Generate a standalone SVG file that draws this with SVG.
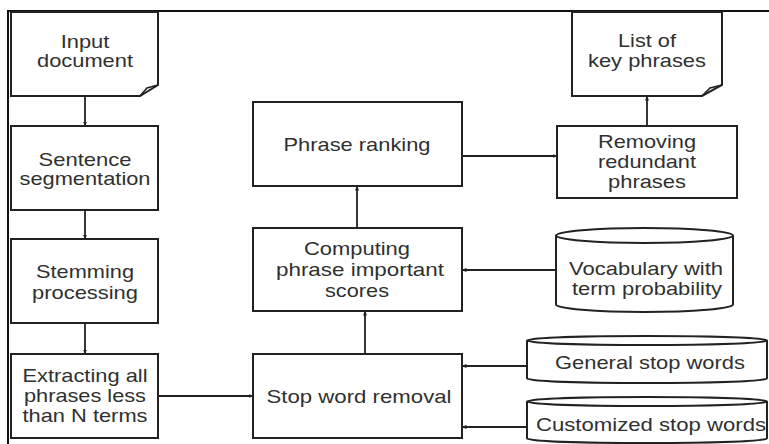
<svg xmlns="http://www.w3.org/2000/svg" width="769" height="444" viewBox="0 0 769 444">
<defs>
<style>
.box{fill:#fff;stroke:#222;stroke-width:2}
.flap{fill:none;stroke:#222;stroke-width:1.6}
.lbl{font-family:"Liberation Sans",Arial,sans-serif;font-size:19px;fill:#303030;text-anchor:middle}
.conn{fill:none;stroke:#222;stroke-width:1.8;marker-end:url(#ah)}
.frame{fill:none;stroke:#111;stroke-width:2}
</style>
<marker id="ah" viewBox="0 0 10 10" refX="9" refY="5" markerWidth="5" markerHeight="5" orient="auto" markerUnits="userSpaceOnUse">
<path d="M0,1 L10,5 L0,9 Z" fill="#222"/>
</marker>
</defs>
<rect x="0" y="0" width="769" height="444" fill="#fff"/>
<path class="frame" d="M8,444 V11 H769"/>

<g id="connectors">
<line class="conn" x1="85" y1="96" x2="85" y2="126"/>
<line class="conn" x1="85" y1="210" x2="85" y2="239"/>
<line class="conn" x1="85" y1="323" x2="85" y2="354"/>
<line class="conn" x1="158" y1="396" x2="253" y2="396"/>
<line class="conn" x1="365" y1="354" x2="365" y2="311"/>
<line class="conn" x1="357" y1="228" x2="357" y2="186"/>
<line class="conn" x1="462" y1="156" x2="557" y2="156"/>
<line class="conn" x1="647" y1="126" x2="647" y2="96"/>
<line class="conn" x1="556" y1="270" x2="462" y2="270"/>
<line class="conn" x1="527" y1="366" x2="462" y2="366"/>
<line class="conn" x1="527" y1="427" x2="462" y2="427"/>
</g>

<g id="input-document">
<path class="box" d="M11,12 H158 V85 L140,96 H11 Z"/>
<path class="flap" d="M158,85 L147,88 L140,96"/>
<text class="lbl" x="85" y="48" textLength="48.6" lengthAdjust="spacingAndGlyphs">Input</text>
<text class="lbl" x="85" y="67" textLength="96" lengthAdjust="spacingAndGlyphs">document</text>
</g>

<g id="sentence-segmentation">
<rect class="box" x="11" y="126" width="147" height="84"/>
<text class="lbl" x="85" y="166" textLength="93" lengthAdjust="spacingAndGlyphs">Sentence</text>
<text class="lbl" x="85" y="185" textLength="131" lengthAdjust="spacingAndGlyphs">segmentation</text>
</g>

<g id="stemming-processing">
<rect class="box" x="11" y="239" width="147" height="84"/>
<text class="lbl" x="85" y="278" textLength="98" lengthAdjust="spacingAndGlyphs">Stemming</text>
<text class="lbl" x="85" y="299" textLength="106" lengthAdjust="spacingAndGlyphs">processing</text>
</g>

<g id="extracting-phrases">
<rect class="box" x="11" y="354" width="147" height="84"/>
<text class="lbl" x="85" y="382" textLength="125" lengthAdjust="spacingAndGlyphs">Extracting all</text>
<text class="lbl" x="85" y="402" textLength="122" lengthAdjust="spacingAndGlyphs">phrases less</text>
<text class="lbl" x="85" y="422" textLength="125" lengthAdjust="spacingAndGlyphs">than N terms</text>
</g>

<g id="phrase-ranking">
<rect class="box" x="253" y="102" width="209" height="84"/>
<text class="lbl" x="357" y="151" textLength="147" lengthAdjust="spacingAndGlyphs">Phrase ranking</text>
</g>

<g id="computing-scores">
<rect class="box" x="253" y="228" width="209" height="83"/>
<text class="lbl" x="357" y="255" textLength="106" lengthAdjust="spacingAndGlyphs">Computing</text>
<text class="lbl" x="360" y="276" textLength="168" lengthAdjust="spacingAndGlyphs">phrase important</text>
<text class="lbl" x="357" y="297" textLength="64" lengthAdjust="spacingAndGlyphs">scores</text>
</g>

<g id="stop-word-removal">
<rect class="box" x="253" y="354" width="209" height="84"/>
<text class="lbl" x="359" y="403" textLength="185" lengthAdjust="spacingAndGlyphs">Stop word removal</text>
</g>

<g id="list-key-phrases">
<path class="box" d="M572,12 H722 V85 L702,96 H572 Z"/>
<path class="flap" d="M722,85 L710,88 L702,96"/>
<text class="lbl" x="647" y="47" textLength="58" lengthAdjust="spacingAndGlyphs">List of</text>
<text class="lbl" x="647" y="67" textLength="118" lengthAdjust="spacingAndGlyphs">key phrases</text>
</g>

<g id="removing-redundant">
<rect class="box" x="557" y="126" width="180" height="72"/>
<text class="lbl" x="647" y="148" textLength="98" lengthAdjust="spacingAndGlyphs">Removing</text>
<text class="lbl" x="647" y="168" textLength="98" lengthAdjust="spacingAndGlyphs">redundant</text>
<text class="lbl" x="647" y="188" textLength="78" lengthAdjust="spacingAndGlyphs">phrases</text>
</g>

<g id="vocabulary">
<path class="box" d="M556,235.5 V304.5 A88.5,7.5 0 0 0 733,304.5 V235.5"/>
<ellipse class="box" cx="644.5" cy="235.5" rx="88.5" ry="7.5"/>
<text class="lbl" x="646" y="275" textLength="154" lengthAdjust="spacingAndGlyphs">Vocabulary with</text>
<text class="lbl" x="647" y="295" textLength="150" lengthAdjust="spacingAndGlyphs">term probability</text>
</g>

<g id="general-stop-words">
<path class="box" d="M527,340.5 V378.5 A120,4.5 0 0 0 767,378.5 V340.5"/>
<ellipse class="box" cx="647" cy="340.5" rx="120" ry="4.5"/>
<text class="lbl" x="650" y="369" textLength="190" lengthAdjust="spacingAndGlyphs">General stop words</text>
</g>

<g id="customized-stop-words">
<path class="box" d="M527,401.5 V438.5 A120,4.5 0 0 0 767,438.5 V401.5"/>
<ellipse class="box" cx="647" cy="401.5" rx="120" ry="4.5"/>
<text class="lbl" x="651" y="431" textLength="230" lengthAdjust="spacingAndGlyphs">Customized stop words</text>
</g>
</svg>
